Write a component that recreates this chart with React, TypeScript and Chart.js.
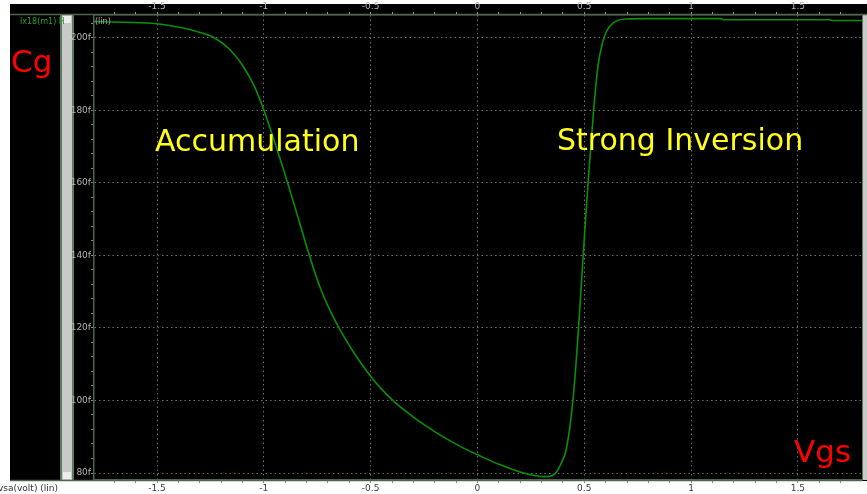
import React, { useEffect, useRef } from "react";
import { Chart, registerables } from "chart.js";

Chart.register(...registerables);

// ---- data ----
const vgs = [
  -1.795, -1.65, -1.5, -1.377, -1.299, -1.228, -1.158, -1.096, -1.041, -1.0, -0.955, -0.909, -0.869,
  -0.83, -0.792, -0.755, -0.722, -0.685, -0.651, -0.6, -0.565, -0.503, -0.45, -0.394, -0.33, -0.269,
  -0.2, -0.144, -0.07, 0.012, 0.1, 0.2, 0.26, 0.3, 0.325, 0.35, 0.37, 0.39, 0.417, 0.448, 0.472,
  0.495, 0.518, 0.542, 0.565, 0.597, 0.636, 0.7, 0.8, 1.14, 1.15, 1.645, 1.66, 1.8,
];
const cg = [
  204.5, 204.3, 203.9, 202.7, 201.5, 199.9, 196.7, 192.1, 186.2, 180.1, 172.3, 163.9, 156.2,
  148.5, 141.0, 134.2, 129.0, 124.2, 120.3, 115.2, 112.0, 106.9, 103.2, 99.9, 96.8, 94.1,
  91.4, 89.4, 87.0, 84.7, 82.4, 80.3, 79.4, 79.05, 79.0, 79.3, 80.3, 82.4, 86.9, 100.7, 119.0,
  140.1, 160.3, 178.8, 192.6, 200.8, 204.1, 205.2, 205.3, 205.3, 205.0, 205.0, 204.8, 204.8,
];

const xTickValues = [-1.5, -1, -0.5, 0, 0.5, 1, 1.5];
const xTickLabels = ["-1.5", "-1", "-0.5", "0", "0.5", "1", "1.5"];
const yTickValues = [80, 100, 120, 140, 160, 180, 200];
const yTickLabels = ["80f", "100f", "120f", "140f", "160f", "180f", "200f"];

const X_MIN = -1.795;
const X_MAX = 1.8;
const Y_MIN = 78.07;
const Y_MAX = 206.3;

const xMinorTicks = Array.from({ length: 35 }, (_, i) => Math.round((-1.7 + i * 0.1) * 10) / 10);
const yMinorTicks = Array.from({ length: 32 }, (_, i) => 80 + i * 4);

const findLabel = (vals: number[], labels: string[], v: number) => {
  const i = vals.findIndex((t) => Math.abs(t - v) < 1e-6);
  return i >= 0 ? labels[i] : "";
};
const isMajor = (vals: number[], v: number) => vals.some((t) => Math.abs(t - v) < 1e-6);

const GRID = "rgba(150,150,150,0.75)";
const AXIS = "#4f654f";

const backgroundPlugin = {
  id: "bgPanels",
  beforeDraw(chart: any) {
    const ctx = chart.ctx;
    const W = chart.width;
    const H = chart.height;
    const a = chart.chartArea;
    ctx.save();
    ctx.fillStyle = "#ffffff";
    ctx.fillRect(0, 0, W, H);
    ctx.fillStyle = "#000000";
    ctx.fillRect(10, 4, W - 10, a.bottom + 1 - 4);
    // left scroll strip
    ctx.fillStyle = "#5d7a5d";
    ctx.fillRect(60, a.top, 14, a.bottom - a.top);
    ctx.fillStyle = "#c9c9c9";
    ctx.fillRect(62, a.top, 10, a.bottom - a.top);
    ctx.fillStyle = "#ececec";
    ctx.fillRect(63, a.top + 1, 8, 7);
    ctx.fillRect(63, a.bottom - 8, 8, 7);
    // right strip
    ctx.fillStyle = "#5d7a5d";
    ctx.fillRect(a.right, a.top, W - a.right, a.bottom - a.top);
    ctx.fillStyle = "#c9c9c9";
    ctx.fillRect(a.right + 1, a.top, W - a.right - 1, a.bottom - a.top);
    // long axis lines
    ctx.strokeStyle = AXIS;
    ctx.lineWidth = 1.5;
    ctx.beginPath();
    ctx.moveTo(10, a.top - 0.5);
    ctx.lineTo(W, a.top - 0.5);
    ctx.moveTo(10, a.bottom + 0.5);
    ctx.lineTo(a.right, a.bottom + 0.5);
    ctx.stroke();
    ctx.restore();
  },
};

const textPlugin = {
  id: "labels",
  afterDraw(chart: any) {
    const ctx = chart.ctx;
    ctx.save();
    ctx.textBaseline = "alphabetic";
    ctx.textAlign = "left";
    ctx.fillStyle = "#ffff1a";
    ctx.font = "30px 'DejaVu Sans'";
    ctx.fillText("Accumulation", 155, 151);
    ctx.fillText("Strong Inversion", 557, 150);
    ctx.fillStyle = "#ff0000";
    ctx.font = "31px 'DejaVu Sans'";
    ctx.fillText("Cg", 11, 72);
    ctx.fillText("Vgs", 794, 462);
    ctx.font = "8px 'DejaVu Sans'";
    ctx.fillStyle = "#2aa02a";
    ctx.fillText("lx18(m1) H", 20, 24);
    ctx.fillStyle = "#a8a8a8";
    ctx.fillText("(lin)", 95, 24);
    ctx.fillStyle = "#303030";
    ctx.font = "9px 'DejaVu Sans'";
    ctx.fillText("vsa(volt) (lin)", -2, 491);
    ctx.restore();
  },
};

export default function App() {
  const ref = useRef<HTMLCanvasElement | null>(null);

  useEffect(() => {
    if (!ref.current) return;
    const chart = new Chart(ref.current, {
      type: "line",
      data: {
        datasets: [
          {
            data: vgs.map((x, i) => ({ x, y: cg[i] })),
            borderColor: "#0b8f0b",
            borderWidth: 1.6,
            pointRadius: 0,
            cubicInterpolationMode: "monotone",
            fill: false,
          },
        ],
      },
      options: {
        responsive: false,
        animation: false,
        devicePixelRatio: 1,
        layout: { padding: { left: 0, right: 5, top: 0, bottom: 0 } },
        plugins: { legend: { display: false }, tooltip: { enabled: false } },
        scales: {
          x: {
            type: "linear",
            position: "bottom",
            min: X_MIN,
            max: X_MAX,
            afterBuildTicks: (s: any) => {
              s.ticks = xMinorTicks.map((v) => ({ value: v }));
            },
            afterFit: (s: any) => {
              s.height = 14;
            },
            ticks: {
              autoSkip: false,
              maxRotation: 0,
              padding: 0,
              color: "#3c3c3c",
              font: { family: "'DejaVu Sans'", size: 9 },
              callback: (v: any) => findLabel(xTickValues, xTickLabels, Number(v)),
            },
            grid: {
              color: (c: any) => (c.tick && isMajor(xTickValues, c.tick.value) ? GRID : "rgba(0,0,0,0)"),
              lineWidth: 1,
              tickLength: 3,
              tickColor: "#7d8d7d",
              tickWidth: 1,
            },
            border: { display: true, color: AXIS, width: 1.5, dash: [1.5, 3] },
          },
          x2: {
            type: "linear",
            position: "top",
            min: X_MIN,
            max: X_MAX,
            afterBuildTicks: (s: any) => {
              s.ticks = xMinorTicks.map((v) => ({ value: v }));
            },
            afterFit: (s: any) => {
              s.height = 15;
            },
            ticks: {
              autoSkip: false,
              maxRotation: 0,
              padding: 0,
              color: "#b4b4b4",
              font: { family: "'DejaVu Sans'", size: 9 },
              callback: (v: any) => findLabel(xTickValues, xTickLabels, Number(v)),
            },
            grid: {
              drawOnChartArea: false,
              tickLength: 3,
              tickColor: "#8d9d8d",
              tickWidth: 1,
            },
            border: { display: true, color: AXIS, width: 1.5 },
          },
          y: {
            type: "linear",
            position: "left",
            min: Y_MIN,
            max: Y_MAX,
            afterBuildTicks: (s: any) => {
              s.ticks = yMinorTicks.map((v) => ({ value: v }));
            },
            afterFit: (s: any) => {
              s.width = 94;
            },
            ticks: {
              autoSkip: false,
              padding: 0,
              color: "#b4b4b4",
              font: { family: "'DejaVu Sans'", size: 9 },
              callback: (v: any) => findLabel(yTickValues, yTickLabels, Number(v)),
            },
            grid: {
              color: (c: any) => (c.tick && isMajor(yTickValues, c.tick.value) ? GRID : "rgba(0,0,0,0)"),
              lineWidth: 1,
              tickLength: 3,
              tickColor: "#7d8d7d",
              tickWidth: 1,
            },
            border: { display: true, color: AXIS, width: 1.5, dash: [1.5, 3] },
          },
        },
      } as any,
      plugins: [backgroundPlugin, textPlugin],
    });
    return () => chart.destroy();
  }, []);

  return (
    <div style={{ position: "fixed", left: 0, top: 0, width: 867, height: 494, background: "#fff" }}>
      <canvas ref={ref} width={867} height={494} style={{ display: "block", width: 867, height: 494 }} />
    </div>
  );
}
